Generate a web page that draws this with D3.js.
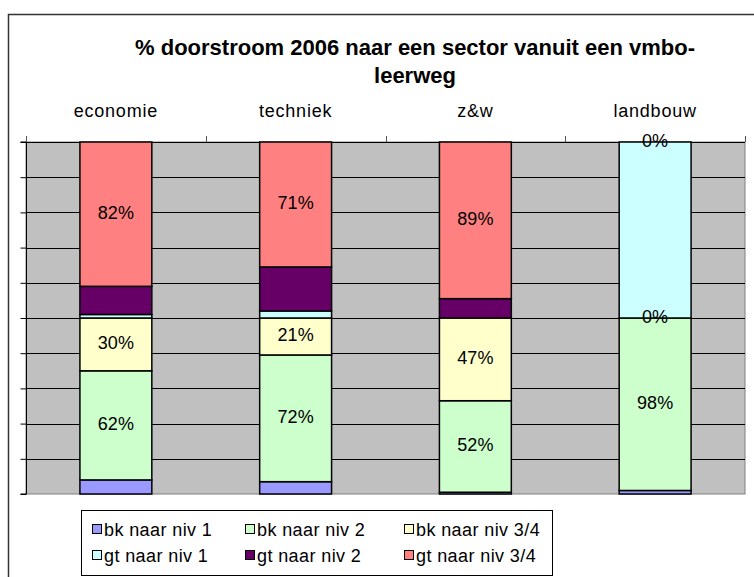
<!DOCTYPE html>
<html>
<head>
<meta charset="utf-8">
<script src="https://cdn.jsdelivr.net/npm/d3@7"></script>
<style>
    body { margin: 0; background: #fff; }
    svg { font-family: "Liberation Sans", Arial, sans-serif; }
</style>
</head>
<body>
<div id="chart"></div>
<script>
// chart data (percentages)
const categories = ["economie", "techniek", "z&w", "landbouw"];
const seriesNames = ["bk naar niv 1", "bk naar niv 2", "bk naar niv 3/4", "gt naar niv 1", "gt naar niv 2", "gt naar niv 3/4"];
const seriesColors = ["#9999FF", "#CCFFCC", "#FFFFCC", "#CCFFFF", "#660066", "#FF8080"];
const bkNiv1 = [8, 7, 1, 2];
const bkNiv2 = [62, 72, 52, 98];
const bkNiv34 = [30, 21, 47, 0];
const gtNiv1 = [2, 4, 0, 100];
const gtNiv2 = [16, 25, 11, 0];
const gtNiv34 = [82, 71, 89, 0];
// which series get a data label
const labelled = ["bk naar niv 2", "bk naar niv 3/4", "gt naar niv 3/4"];
const yTicks = [0, 20, 40, 60, 80, 100, 120, 140, 160, 180, 200];
const titleLines = ["% doorstroom 2006 naar een sector vanuit een vmbo-", "leerweg"];

class stackVis {
    constructor(parentElement) {
        this.parentElement = parentElement;
        this.initVis();
    }

    initVis() {
        let vis = this;
        vis.width = 754;
        vis.height = 577;
        vis.plot = {left: 26, right: 745, top: 142, bottom: 494};

        vis.svg = d3.select("#" + vis.parentElement).append("svg")
            .attr("width", vis.width)
            .attr("height", vis.height);

        // outer chart frame (runs off the right and bottom of the picture)
        vis.svg.append("rect")
            .attr("x", 8.5).attr("y", 14.5)
            .attr("width", 900).attr("height", 700)
            .attr("fill", "none")
            .attr("stroke", "#333")
            .attr("stroke-width", 1.5);

        // title
        vis.svg.append("g").selectAll("text")
            .data(titleLines)
            .enter().append("text")
            .attr("x", 415)
            .attr("y", (d, i) => 55 + i * 28)
            .attr("text-anchor", "middle")
            .style("font-weight", "bold")
            .style("font-size", "22px")
            .text(d => d);

        vis.x = d3.scaleBand()
            .domain(categories)
            .range([vis.plot.left, vis.plot.right])
            .paddingInner(0.6)
            .paddingOuter(0.3);
        vis.y = d3.scaleLinear()
            .domain([0, 200])
            .range([vis.plot.bottom, vis.plot.top]);

        vis.wrangleData();
    }

    wrangleData() {
        let vis = this;
        let cols = [bkNiv1, bkNiv2, bkNiv34, gtNiv1, gtNiv2, gtNiv34];
        vis.table = categories.map((c, i) => {
            let row = {category: c};
            seriesNames.forEach((s, j) => row[s] = cols[j][i]);
            return row;
        });
        vis.stacked = d3.stack().keys(seriesNames)(vis.table);
        vis.updateVis();
    }

    updateVis() {
        let vis = this;

        // plot background
        vis.svg.append("rect")
            .attr("x", vis.plot.left).attr("y", vis.plot.top)
            .attr("width", vis.plot.right - vis.plot.left)
            .attr("height", vis.plot.bottom - vis.plot.top)
            .attr("fill", "#C0C0C0")
            .attr("stroke", "#808080")
            .attr("stroke-width", 1);

        // gridlines
        vis.svg.append("g").selectAll("line")
            .data(yTicks.slice(1, -1))
            .enter().append("line")
            .attr("x1", vis.plot.left).attr("x2", vis.plot.right)
            .attr("y1", d => Math.round(vis.y(d)) + 0.5)
            .attr("y2", d => Math.round(vis.y(d)) + 0.5)
            .attr("stroke", "#000")
            .attr("stroke-width", 1);

        // value axis, no labels
        let yAxis = d3.axisLeft(vis.y).tickValues(yTicks).tickSize(6).tickFormat("");
        vis.svg.append("g")
            .attr("transform", `translate(${vis.plot.left + 0.5}, 0)`)
            .call(yAxis)
            .call(g => g.select(".domain").attr("stroke", "#000").attr("d", `M-6,${vis.plot.top}H0V${vis.plot.bottom}H-6`));

        // category axis on top, ticks between categories
        let step = vis.x.step();
        let bounds = categories.map((c, i) => vis.plot.left + i * step).concat([vis.plot.right]);
        let top = vis.svg.append("g");
        top.append("line")
            .attr("x1", vis.plot.left).attr("x2", vis.plot.right)
            .attr("y1", vis.plot.top + 0.5).attr("y2", vis.plot.top + 0.5)
            .attr("stroke", "#000");
        top.selectAll(".tk").data(bounds)
            .enter().append("line")
            .attr("class", "tk")
            .attr("x1", d => Math.round(d) + 0.5).attr("x2", d => Math.round(d) + 0.5)
            .attr("y1", vis.plot.top - 6).attr("y2", vis.plot.top)
            .attr("stroke", "#555");
        top.selectAll("text").data(categories)
            .enter().append("text")
            .attr("x", d => vis.x(d) + vis.x.bandwidth() / 2)
            .attr("y", 117)
            .attr("text-anchor", "middle")
            .style("font-size", "18px")
            .style("letter-spacing", "0.8px")
            .text(d => d);

        // stacked bars
        let layers = vis.svg.append("g").selectAll("g")
            .data(vis.stacked)
            .enter().append("g")
            .attr("fill", (d, i) => seriesColors[i]);
        layers.selectAll("rect")
            .data(d => d.map(p => ({p: p, key: d.key})))
            .enter().append("rect")
            .attr("x", d => vis.x(d.p.data.category))
            .attr("y", d => vis.y(d.p[1]))
            .attr("width", vis.x.bandwidth())
            .attr("height", d => vis.y(d.p[0]) - vis.y(d.p[1]))
            .attr("stroke", "#000")
            .attr("stroke-width", 1.5);

        // data labels
        let labels = [];
        vis.stacked.forEach(layer => {
            if (!labelled.includes(layer.key)) return;
            layer.forEach(p => labels.push({
                cat: p.data.category,
                mid: (p[0] + p[1]) / 2,
                value: p.data[layer.key]
            }));
        });
        vis.svg.append("g").selectAll("text")
            .data(labels)
            .enter().append("text")
            .attr("x", d => vis.x(d.cat) + vis.x.bandwidth() / 2)
            .attr("y", d => vis.y(d.mid) + 4.5)
            .attr("text-anchor", "middle")
            .style("font-size", "18px")
            .text(d => d.value + "%");

        // legend
        let legend = vis.svg.append("g").attr("class", "legend");
        legend.append("rect")
            .attr("x", 81.5).attr("y", 510.5)
            .attr("width", 471).attr("height", 65)
            .attr("fill", "#fff")
            .attr("stroke", "#000");
        let colX = [92, 245, 404];
        legend.selectAll("g").data(seriesNames)
            .enter().append("g")
            .each(function (d, i) {
                let g = d3.select(this);
                let cx = colX[i % 3];
                let cy = i < 3 ? 529 : 555;
                g.append("rect")
                    .attr("x", cx + 0.5).attr("y", cy - 4.5)
                    .attr("width", 9).attr("height", 9)
                    .attr("fill", seriesColors[i])
                    .attr("stroke", "#000");
                g.append("text")
                    .attr("x", cx + 12)
                    .attr("y", cy + 6.5)
                    .style("font-size", "18px")
                    .style("letter-spacing", "0.4px")
                    .text(d);
            });
    }
}

new stackVis("chart");
</script>
</body>
</html>
